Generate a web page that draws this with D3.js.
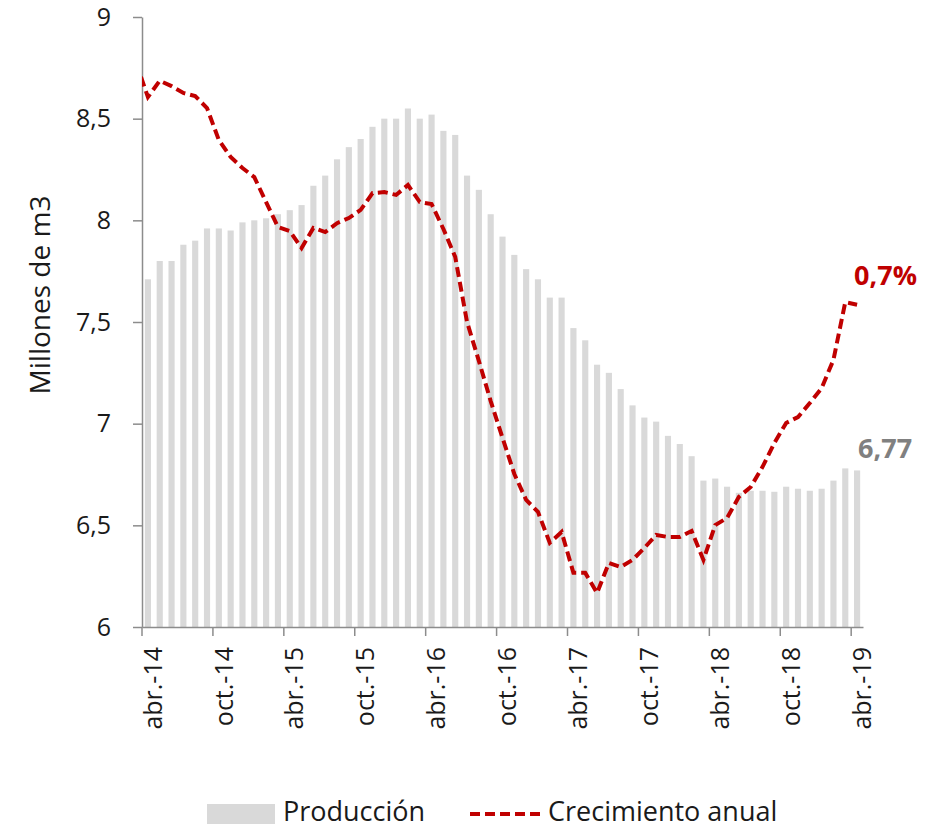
<!DOCTYPE html>
<html>
<head>
<meta charset="utf-8">
<script src="https://cdn.jsdelivr.net/npm/d3@7"></script>
<style>
  body { margin: 0; background: #fff; }
  svg { font-family: "Open Sans", sans-serif; }
</style>
</head>
<body>
<svg width="934" height="830"></svg>
<script>
const meses = [
  "abr.-14","may.-14","jun.-14","jul.-14","ago.-14","sep.-14","oct.-14","nov.-14","dic.-14",
  "ene.-15","feb.-15","mar.-15","abr.-15","may.-15","jun.-15","jul.-15","ago.-15","sep.-15","oct.-15","nov.-15","dic.-15",
  "ene.-16","feb.-16","mar.-16","abr.-16","may.-16","jun.-16","jul.-16","ago.-16","sep.-16","oct.-16","nov.-16","dic.-16",
  "ene.-17","feb.-17","mar.-17","abr.-17","may.-17","jun.-17","jul.-17","ago.-17","sep.-17","oct.-17","nov.-17","dic.-17",
  "ene.-18","feb.-18","mar.-18","abr.-18","may.-18","jun.-18","jul.-18","ago.-18","sep.-18","oct.-18","nov.-18","dic.-18",
  "ene.-19","feb.-19","mar.-19","abr.-19"
];

// millones de m3
const produccion = [
  7.71, 7.80, 7.80, 7.88, 7.90, 7.96, 7.96, 7.95, 7.99,
  8.00, 8.01, 8.03, 8.05, 8.075, 8.17, 8.22, 8.30, 8.36, 8.40, 8.46, 8.50,
  8.50, 8.55, 8.50, 8.52, 8.44, 8.42, 8.22, 8.15, 8.03, 7.92, 7.83, 7.76,
  7.71, 7.62, 7.62, 7.47, 7.41, 7.29, 7.25, 7.17, 7.09, 7.03, 7.01, 6.94,
  6.90, 6.84, 6.72, 6.73, 6.69, 6.66, 6.67, 6.67, 6.665, 6.69, 6.68, 6.67,
  6.68, 6.72, 6.78, 6.77
];

// crecimiento anual, % (eje secundario oculto)
const crecimientoMar14 = 10.2;
const crecimiento = [
  8.85, 9.49, 9.28, 9.01, 8.89, 8.42, 7.16, 6.49, 6.06,
  5.70, 4.72, 3.74, 3.58, 2.91, 3.70, 3.54, 3.89, 4.09, 4.41, 5.07, 5.11,
  5.00, 5.39, 4.72, 4.64, 3.66, 2.56, 0.00, -1.53, -3.11, -4.56, -5.98, -7.00,
  -7.47, -8.69, -8.26, -9.87, -9.87, -10.66, -9.48, -9.64, -9.36, -8.89, -8.38, -8.46,
  -8.46, -8.22, -9.36, -7.99, -7.71, -6.88, -6.49, -5.70, -4.76, -3.97, -3.74, -3.19,
  -2.60, -1.49, 0.78, 0.68
];

const yTicks = [6, 6.5, 7, 7.5, 8, 8.5, 9];
const xTicks = meses.filter(m => m.startsWith("abr") || m.startsWith("oct"));

const es = d3.formatLocale({ decimal: ",", thousands: ".", grouping: [3], currency: ["", " €"] });
const fmtEje = es.format(".1~f");
const fmtProd = es.format(".2f");
const fmtPct = es.format(".1f");

const svg = d3.select("svg");
const plotLeft = 142, plotRight = 863, plotTop = 17, plotBottom = 627;

const x = d3.scaleBand()
  .domain(meses)
  .range([plotLeft, plotRight])
  .paddingInner(0.48)
  .paddingOuter(0.24);
const step = x.step();
const bw = x.bandwidth();

const y = d3.scaleLinear().domain([6, 9]).range([plotBottom, plotTop]);
const y2 = d3.scaleLinear().domain([-12, 12]).range([plotBottom, plotTop]);

svg.append("defs").append("clipPath").attr("id", "plot")
  .append("rect")
  .attr("x", plotLeft).attr("y", plotTop)
  .attr("width", plotRight - plotLeft).attr("height", plotBottom - plotTop);

// barras
svg.append("g")
  .selectAll("rect")
  .data(produccion)
  .join("rect")
  .attr("x", (d, i) => x(meses[i]))
  .attr("y", d => y(d))
  .attr("width", bw)
  .attr("height", d => y(6) - y(d))
  .attr("fill", "#d9d9d9");

// eje y
const gy = svg.append("g")
  .attr("transform", `translate(${plotLeft},0)`)
  .call(d3.axisLeft(y).tickValues(yTicks).tickFormat(fmtEje).tickSize(9).tickSizeOuter(0).tickPadding(22));
gy.select(".domain").attr("stroke", "#8c8c8c").attr("stroke-width", 1.5);
gy.selectAll(".tick line").attr("stroke", "#8c8c8c").attr("stroke-width", 1.5);
gy.selectAll("text").attr("font-size", 25).attr("fill", "#1a1a1a").attr("font-family", "Open Sans");

// eje x
const gx = svg.append("g")
  .attr("transform", `translate(0,${plotBottom})`)
  .call(d3.axisBottom(x).tickValues(xTicks).tickSize(9).tickSizeOuter(0));
gx.select(".domain").attr("stroke", "#8c8c8c").attr("stroke-width", 1.5);
gx.selectAll(".tick line")
  .attr("x1", -step / 2).attr("x2", -step / 2)
  .attr("stroke", "#8c8c8c").attr("stroke-width", 1.5);
gx.selectAll("text")
  .attr("transform", "rotate(-90)")
  .attr("x", -20)
  .attr("y", 5)
  .attr("dy", "0.35em")
  .attr("text-anchor", "end")
  .attr("font-size", 25)
  .attr("fill", "#1a1a1a")
  .attr("font-family", "Open Sans");

// título eje
svg.append("text")
  .attr("transform", `translate(50,295) rotate(-90)`)
  .attr("text-anchor", "middle")
  .attr("font-size", 28)
  .attr("fill", "#1a1a1a")
  .text("Millones de m3");

// línea de crecimiento
const serie = [{ i: -1, v: crecimientoMar14 }].concat(crecimiento.map((v, i) => ({ i, v })));
const xc = i => x(meses[0]) + bw / 2 + i * step;
const linea = d3.line().x(d => xc(d.i)).y(d => y2(d.v));

svg.append("path")
  .datum(serie)
  .attr("clip-path", "url(#plot)")
  .attr("d", linea)
  .attr("fill", "none")
  .attr("stroke", "#c00000")
  .attr("stroke-width", 4)
  .attr("stroke-dasharray", "10,5");

// etiquetas finales
const n = meses.length - 1;
svg.append("text")
  .attr("x", xc(n) - 3)
  .attr("y", y2(crecimiento[n]) - 20)
  .attr("font-size", 27)
  .attr("font-weight", "bold")
  .attr("fill", "#c00000")
  .text(fmtPct(crecimiento[n]) + "%");

svg.append("text")
  .attr("x", xc(n) + 1)
  .attr("y", y(produccion[n]) - 12)
  .attr("font-size", 27)
  .attr("font-weight", "bold")
  .attr("fill", "#808080")
  .text(fmtProd(produccion[n]));

// leyenda
const lg = svg.append("g");
lg.append("rect")
  .attr("x", 207).attr("y", 804)
  .attr("width", 68).attr("height", 20)
  .attr("fill", "#d9d9d9");
lg.append("text")
  .attr("x", 283).attr("y", 821)
  .attr("font-size", 27).attr("fill", "#1a1a1a")
  .text("Producción");
lg.append("line")
  .attr("x1", 470).attr("x2", 545)
  .attr("y1", 814).attr("y2", 814)
  .attr("stroke", "#c00000").attr("stroke-width", 4)
  .attr("stroke-dasharray", "10,5");
lg.append("text")
  .attr("x", 548).attr("y", 821)
  .attr("font-size", 27).attr("fill", "#1a1a1a")
  .text("Crecimiento anual");
</script>
</body>
</html>
